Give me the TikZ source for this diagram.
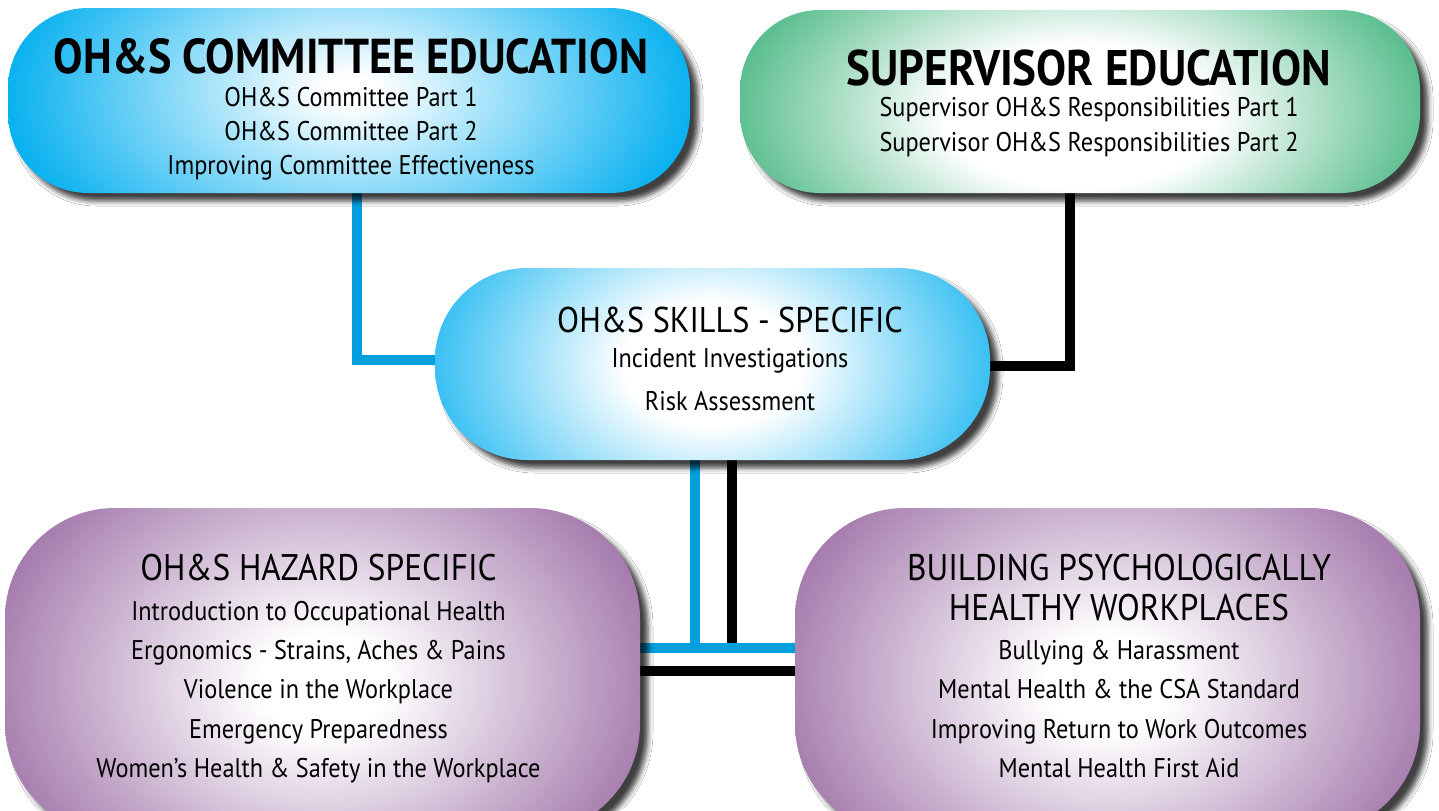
\documentclass[tikz,border=0pt]{standalone}
\usepackage{fontspec}
\setmainfont{PT Sans}[FakeStretch=0.9]
\usetikzlibrary{shadows.blur,calc}
\definecolor{cblue}{RGB}{0,174,239}
\definecolor{lblue}{RGB}{0,160,222}
\definecolor{cgreen}{RGB}{0,155,80}
\definecolor{cpurple}{RGB}{164,122,172}
\pgfdeclareradialshading{glowA}{\pgfpoint{0bp}{1.5bp}}{color(0bp)=(white); color(2bp)=(white); color(26bp)=(cblue); color(50bp)=(cblue)}
\pgfdeclareradialshading{glowG}{\pgfpoint{0bp}{-2.5bp}}{color(0bp)=(white); color(10bp)=(white); color(34bp)=(cgreen); color(50bp)=(cgreen)}
\pgfdeclareradialshading{glowC}{\pgfpoint{0bp}{0bp}}{color(0bp)=(white); color(8bp)=(white); color(30bp)=(cblue); color(50bp)=(cblue)}
\pgfdeclareradialshading{glowP}{\pgfpoint{0bp}{-1.5bp}}{color(0bp)=(white); color(5bp)=(white); color(27bp)=(cpurple); color(50bp)=(cpurple)}
\pgfdeclarelayer{bg}
\pgfsetlayers{bg,main}
\tikzset{
  panel/.style 2 args={rectangle, draw=none, inner sep=0pt,
    blur shadow={shadow xshift=4pt, shadow yshift=-4pt, shadow blur radius=2.5pt, shadow opacity=75},
    path picture={\shade[shading=#1] ([yshift=-#2]path picture bounding box.south west) rectangle ([yshift=#2]path picture bounding box.north east);}},
  txt/.style={align=center, inner sep=0pt, text=black},
  bline/.style={line width=5pt, draw=lblue},
  kline/.style={line width=5pt, draw=black},
}
\begin{document}
\begin{tikzpicture}[x=0.5pt,y=-0.5pt]
\clip (0,0) rectangle (1439,810);
% boxes
\node[panel={glowA}{50pt}, rounded corners=40pt, minimum width=341pt, minimum height=92.5pt] (box1) at (349,100.5) {};
\node[panel={glowG}{45pt}, rounded corners=40pt, minimum width=340pt, minimum height=91.5pt] (box2) at (1080,101.5) {};
\node[panel={glowC}{50pt}, rounded corners=46pt, minimum width=277.5pt, minimum height=96pt] (box3) at (712.5,364) {};
\node[panel={glowP}{40pt}, rounded corners=55pt, minimum width=317.5pt, minimum height=163pt] (box4) at (322.5,671) {};
\node[panel={glowP}{40pt}, rounded corners=55pt, minimum width=312.5pt, minimum height=163pt] (box5) at (1107.5,671) {};
% texts
\node[txt, anchor=north, font=\fontsize{13.5}{16.8}\selectfont] (t1) at (351,38)
  {{\fontsize{24.5}{16.8}\selectfont\bfseries OH\&S COMMITTEE EDUCATION}\\OH\&S Committee Part 1\\OH\&S Committee Part 2\\Improving Committee Effectiveness};
\node[txt, anchor=north, font=\fontsize{13.5}{17.3}\selectfont] (t2) at (1089,49)
  {{\fontsize{25}{17.3}\selectfont\bfseries SUPERVISOR EDUCATION}\\[-1.5pt]Supervisor OH\&S Responsibilities Part 1\\Supervisor OH\&S Responsibilities Part 2};
\node[txt, anchor=north, font=\fontsize{13.5}{17.5}\selectfont] (t3) at (730,307)
  {{\fontsize{17.9}{17.5}\selectfont OH\&S SKILLS - SPECIFIC}\\Incident Investigations\\[4pt]Risk Assessment};
\node[txt, anchor=north, font=\fontsize{13.5}{19.7}\selectfont] (t4) at (318.5,554)
  {{\fontsize{18.5}{19.7}\selectfont OH\&S HAZARD SPECIFIC}\\Introduction to Occupational Health\\Ergonomics - Strains, Aches \& Pains\\Violence in the Workplace\\Emergency Preparedness\\Women’s Health \& Safety in the Workplace};
\node[txt, anchor=north, font=\fontsize{13.5}{19.7}\selectfont] (t5) at (1119,554)
  {{\fontsize{18.5}{19.7}\selectfont BUILDING PSYCHOLOGICALLY}\\{\fontsize{18.5}{19.7}\selectfont HEALTHY WORKPLACES}\\Bullying \& Harassment\\Mental Health \& the CSA Standard\\Improving Return to Work Outcomes\\Mental Health First Aid};
% connectors
\coordinate (hb) at ([yshift=11.5pt]box4.east);
\begin{pgfonlayer}{bg}
\fill[white] (0,0) rectangle (1439,810);
\draw[bline] ([xshift=4pt]box1.south) |- ([yshift=2pt]box3.west);
\draw[kline] ([xshift=-5pt]box2.south) |- ([yshift=-1pt]box3.east);
\draw[kline] ([xshift=9.75pt]box3.south) -- ([xshift=9.75pt]box3.south |- hb);
\draw[kline] (box4.east) -- (box5.west);
\draw[bline] (hb) -- (hb -| box5.west);
\draw[bline] ([xshift=-8.75pt]box3.south) -- ([xshift=-8.75pt]box3.south |- hb);
\end{pgfonlayer}
\end{tikzpicture}
\end{document}
